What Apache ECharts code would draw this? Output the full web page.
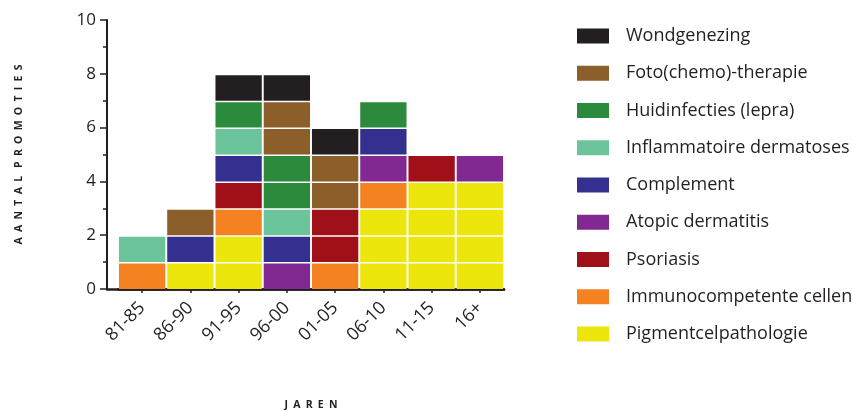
<!DOCTYPE html>
<html>
<head>
<meta charset="utf-8">
<script src="https://cdn.jsdelivr.net/npm/echarts@6/dist/echarts.min.js"></script>
<style>
  html, body { margin: 0; padding: 0; background: #fff; }
  #chart { width: 852px; height: 410px; }
</style>
</head>
<body>
<div id="chart"></div>
<script>
// Promotions per period, split by research theme (one cell per promotion)
const categories = ['81-85', '86-90', '91-95', '96-00', '01-05', '06-10', '11-15', '16+'];

const pigmentcelpathologie = [0, 1, 2, 0, 0, 3, 4, 4];
const immunocompetente     = [1, 0, 1, 0, 1, 1, 0, 0];
const psoriasis            = [0, 0, 1, 0, 2, 0, 1, 0];
const atopicDermatitis     = [0, 0, 0, 1, 0, 1, 0, 1];
const complement           = [0, 1, 1, 1, 0, 1, 0, 0];
const inflammatoire        = [1, 0, 1, 1, 0, 0, 0, 0];
const huidinfecties        = [0, 0, 1, 2, 0, 1, 0, 0];
const fotoTherapie         = [0, 1, 0, 2, 2, 0, 0, 0];
const wondgenezing         = [0, 0, 1, 1, 1, 0, 0, 0];

const yTicks = [0, 2, 4, 6, 8, 10];

// stacking order, bottom to top
const themes = [
  { name: 'Pigmentcelpathologie',        values: pigmentcelpathologie, color: '#ece60c' },
  { name: 'Immunocompetente cellen',     values: immunocompetente,     color: '#f58220' },
  { name: 'Psoriasis',                   values: psoriasis,            color: '#a01018' },
  { name: 'Atopic dermatitis',           values: atopicDermatitis,     color: '#812990' },
  { name: 'Complement',                  values: complement,           color: '#343090' },
  { name: 'Inflammatoire dermatoses',    values: inflammatoire,        color: '#6bc49c' },
  { name: 'Huidinfecties (lepra)',       values: huidinfecties,        color: '#2c8a3c' },
  { name: 'Foto(chemo)-therapie',        values: fotoTherapie,         color: '#8b5e2a' },
  { name: 'Wondgenezing',                values: wondgenezing,         color: '#231f20' }
];

const ink = '#231f20';
const running = categories.map(() => 0);

// widely tracked axis titles: letters separated by en spaces
const track = s => s.split(' ').map(w => w.split('').join('\u2002')).join('\u2002 ');

// each promotion is drawn as its own cell inside the stacked column
function renderCells(params, api) {
  const x = api.value(0);
  const base = api.value(1);
  const n = api.value(2);
  const bandW = api.size([1, 0])[0];
  const w = bandW * 0.96;
  const color = api.visual('color');
  const children = [];
  for (let k = 0; k < n; k++) {
    const top = api.coord([x, base + k + 1]);
    const bottom = api.coord([x, base + k]);
    children.push({
      type: 'rect',
      shape: { x: top[0] - w / 2, y: top[1] + 1.5, width: w, height: bottom[1] - top[1] - 1.5 },
      style: { fill: color }
    });
  }
  return { type: 'group', children };
}

const series = themes.map(t => {
  const data = [];
  t.values.forEach((v, i) => {
    if (v > 0) data.push([i, running[i], v]);
    running[i] += v;
  });
  return {
    type: 'custom',
    name: t.name,
    xAxisIndex: 0,
    yAxisIndex: 0,
    itemStyle: { color: t.color },
    encode: { x: 0, y: 1 },
    renderItem: renderCells,
    data
  };
});

const chart = echarts.init(document.getElementById('chart'), null, { renderer: 'canvas' });
chart.setOption({
  animation: false,
  backgroundColor: '#fff',
  textStyle: { fontFamily: '"Open Sans", "Noto Sans", sans-serif' },
  grid: [
    { left: 118, right: 348, top: 20, bottom: 121, containLabel: false, outerBoundsMode: 'none' },
    { left: 107, right: 348, top: 20, bottom: 121, containLabel: false, outerBoundsMode: 'none' }
  ],
  legend: {
    left: 572,
    top: 22,
    orient: 'vertical',
    itemWidth: 32,
    itemHeight: 15,
    itemGap: 19.25,
    icon: 'rect',
    selectedMode: false,
    data: themes.map(t => t.name).reverse(),
    textStyle: { fontSize: 18, color: ink, padding: [0, 0, 0, 12], fontFamily: '"Open Sans", sans-serif' }
  },
  xAxis: [
    {
      type: 'category',
      gridIndex: 0,
      data: categories,
      boundaryGap: true,
      name: track('JAREN'),
      nameLocation: 'middle',
      nameGap: 111,
      nameTextStyle: { fontSize: 10.5, fontWeight: 'bold', color: ink },
      axisLine: { show: true, lineStyle: { color: ink, width: 2.5 } },
      axisTick: { show: true, alignWithLabel: true, length: 4, lineStyle: { color: ink, width: 1.5 } },
      axisLabel: { interval: 0, rotate: 45, fontSize: 18, color: ink, margin: 16, padding: [50, 0, 0, 0] },
      splitLine: { show: false }
    },
    {
      type: 'value',
      gridIndex: 1,
      min: 0,
      max: 1,
      axisLine: { show: true, lineStyle: { color: ink, width: 2.5 } },
      axisTick: { show: false },
      axisLabel: { show: false },
      splitLine: { show: false }
    }
  ],
  yAxis: [
    {
      type: 'value',
      gridIndex: 0,
      min: yTicks[0],
      max: yTicks[yTicks.length - 1],
      interval: 2,
      offset: 11,
      name: track('AANTAL PROMOTIES'),
      nameLocation: 'middle',
      nameGap: 82,
      nameRotate: 90,
      nameTextStyle: { fontSize: 10.5, fontWeight: 'bold', color: ink },
      axisLine: { show: true, lineStyle: { color: ink, width: 2 } },
      axisTick: { show: true, length: 7, lineStyle: { color: ink, width: 1.5 } },
      minorTick: { show: true, splitNumber: 2, length: 4, lineStyle: { color: ink, width: 1.5 } },
      axisLabel: { fontSize: 17, color: ink, margin: 11 },
      splitLine: { show: false }
    },
    {
      type: 'value',
      gridIndex: 1,
      min: 0,
      max: 1,
      show: false
    }
  ],
  series
});
</script>
</body>
</html>
